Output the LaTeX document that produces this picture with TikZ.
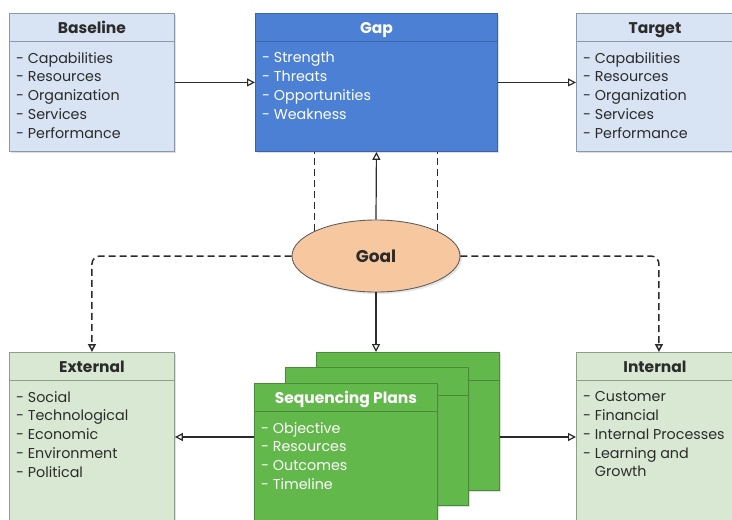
\documentclass[tikz,border=0pt]{standalone}
\usepackage{fontspec}
\setmainfont{Poppins}
\usetikzlibrary{positioning, arrows.meta, shapes.geometric, shadows}
\tikzset{>={Triangle[open, length=8pt, width=8pt]}}

\definecolor{paleblue}{HTML}{D8E3F3}
\definecolor{paleblueline}{HTML}{8A97AC}
\definecolor{gapblue}{HTML}{4B80D4}
\definecolor{gapblueline}{HTML}{3A65A6}
\definecolor{palegreen}{HTML}{D9E8D3}
\definecolor{palegreenline}{HTML}{8E9E89}
\definecolor{plangreen}{HTML}{62B84A}
\definecolor{plangreenline}{HTML}{4A8A38}
\definecolor{goalorange}{HTML}{F7C89F}
\definecolor{inkgray}{HTML}{2B2B2B}

\begin{document}
\begin{tikzpicture}[x=1pt, y=-1pt,
    box/.style={anchor=north west, inner sep=0pt, line width=0.9pt,
        minimum width=165pt, minimum height=138pt,
        drop shadow={opacity=0.25, shadow xshift=2pt, shadow yshift=-2pt}},
    bluebox/.style={box, draw=paleblueline, fill=paleblue},
    gapbox/.style={box, draw=gapblueline, fill=gapblue, minimum width=242pt},
    greenbox/.style={box, draw=palegreenline, fill=palegreen, minimum height=190pt},
    planbox/.style={box, draw=plangreenline, fill=plangreen, minimum width=183pt},
    title/.style={anchor=base, inner sep=0pt,
        font=\bfseries\fontsize{15.5}{18}\selectfont, text=inkgray},
    items/.style={anchor=north west, align=left, inner sep=0pt,
        font=\fontsize{14.3}{18.9}\selectfont, text=inkgray},
    goalshape/.style={ellipse, draw=inkgray!75, fill=goalorange, line width=0.9pt,
        minimum width=168pt, minimum height=72pt,
        font=\bfseries\fontsize{17}{20}\selectfont, text=inkgray,
        drop shadow={opacity=0.2, shadow xshift=2pt, shadow yshift=-2pt}},
    arr/.style={->, draw=inkgray, line width=1.2pt},
    dashline/.style={draw=inkgray, line width=1.5pt, dash pattern=on 7pt off 4pt},
    dasharr/.style={->, dashline, rounded corners=8pt}]

    \useasboundingbox (0,0) rectangle (732,520);
    \clip (0,0) rectangle (732,520);

    % top row
    \node[bluebox] (base) at (9,13) {};
    \draw[paleblueline, line width=0.9pt] ([yshift=-28pt]base.north west) -- ([yshift=-28pt]base.north east);
    \node[title] at ([yshift=-20pt]base.north) {Baseline};
    \node[items] at ([xshift=7pt, yshift=-39pt]base.north west)
        {- Capabilities\\- Resources\\- Organization\\- Services\\- Performance};

    \node[gapbox] (gap) at (255,13) {};
    \draw[gapblueline, line width=0.9pt] ([yshift=-28pt]gap.north west) -- ([yshift=-28pt]gap.north east);
    \node[title, text=white] at ([yshift=-20pt]gap.north) {Gap};
    \node[items, text=white] at ([xshift=7pt, yshift=-39pt]gap.north west)
        {- Strength\\- Threats\\- Opportunities\\- Weakness};

    \node[bluebox] (target) at (576,13) {};
    \draw[paleblueline, line width=0.9pt] ([yshift=-28pt]target.north west) -- ([yshift=-28pt]target.north east);
    \node[title] at ([xshift=-4pt, yshift=-20pt]target.north) {Target};
    \node[items] at ([xshift=7pt, yshift=-39pt]target.north west)
        {- Capabilities\\- Resources\\- Organization\\- Services\\- Performance};

    % bottom row
    \node[greenbox] (ext) at (9,352) {};
    \draw[palegreenline, line width=0.9pt] ([yshift=-28pt]ext.north west) -- ([yshift=-28pt]ext.north east);
    \node[title] at ([yshift=-20pt]ext.north) {External};
    \node[items] at ([xshift=7pt, yshift=-39pt]ext.north west)
        {- Social\\- Technological\\- Economic\\- Environment\\- Political};

    \node[greenbox] (int) at (576,352) {};
    \draw[palegreenline, line width=0.9pt] ([yshift=-28pt]int.north west) -- ([yshift=-28pt]int.north east);
    \node[title] at ([xshift=-4pt, yshift=-20pt]int.north) {Internal};
    \node[items] at ([xshift=7pt, yshift=-39pt]int.north west)
        {- Customer\\- Financial\\- Internal Processes\\- Learning and\\\phantom{- }Growth};

    % stacked plans, back to front
    \foreach \px/\py/\pname in {316/352/planc, 285/367/planb, 254/383/plana} {
        \node[planbox] (\pname) at (\px,\py) {};
        \draw[plangreenline, line width=0.9pt] ([yshift=-28pt]\pname.north west) -- ([yshift=-28pt]\pname.north east);
    }
    \node[title, text=white] at ([yshift=-20pt]plana.north) {Sequencing Plans};
    \node[items, text=white] at ([xshift=7pt, yshift=-39pt]plana.north west)
        {- Objective\\- Resources\\- Outcomes\\- Timeline};

    % goal in the middle
    \node[goalshape] (goal) at (376,256) {Goal};

    % connectors
    \draw[arr] (base.east) -- (gap.west);
    \draw[arr] (gap.east) -- (target.west);
    \draw[arr] (goal.north) -- (gap.south);
    \draw[dashline] (goal.158) -- (goal.158 |- gap.south);
    \draw[dashline] (goal.22) -- (goal.22 |- gap.south);
    \draw[dasharr] (goal.west) -| (ext.north);
    \draw[dasharr] (goal.east) -| (int.north);
    \draw[arr] (goal.south) -- (goal.south |- planc.north);

    \coordinate (planrow) at (0,437);
    \draw[arr] (plana.west |- planrow) -- (ext.east |- planrow);
    \draw[arr] (planc.east |- planrow) -- (int.west |- planrow);
\end{tikzpicture}
\end{document}
